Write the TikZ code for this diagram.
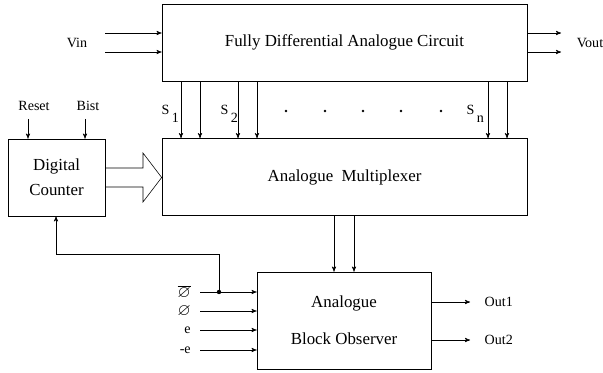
\documentclass[tikz,border=0pt]{standalone}
\usepackage{amssymb}
\usepackage{fontspec}
\setmainfont{Liberation Serif}
\usetikzlibrary{arrows}
\usetikzlibrary{calc}
\usetikzlibrary{positioning}

\newcommand{\phisym}{{\large$\varnothing$}}

\begin{document}
\begin{tikzpicture}
	[
	x=0.025cm, y=-0.025cm,
  > = stealth',
  box/.style = {draw, inner sep=2pt, font=\large},
  lbl/.style = {inner sep=1pt, font=\normalsize},
  dot/.style = {fill,circle,inner sep=1.1pt}
  ]
	\useasboundingbox (0,0) rectangle (603,373);

	\node[box, minimum width=9.125cm, minimum height=1.925cm] (fdac) at (344.5,42.5) {Fully Differential Analogue Circuit};
	\node[box, minimum width=9.125cm, minimum height=1.925cm] (amux) at (344.5,177) {\raisebox{-3pt}{Analogue\ \ Multiplexer}};
	\node[box, minimum width=2.425cm, minimum height=1.925cm, align=center] (dcnt) at (56.5,177.5) {Digital\\[4pt]Counter};
	\node[box, minimum width=4.35cm, minimum height=2.425cm, align=center] (abo) at (344,320.5) {Analogue\\[12pt]Block Observer};

	% circuit in / out
	\node[lbl] (vin) at (77,43) {Vin};
	\node[lbl] (vout) at (590,43) {Vout};
	\foreach \y in {33,52} {
		\coordinate (vi\y) at (105,\y);
		\coordinate (vo\y) at (561,\y);
		\draw[->] (vi\y) -- (vi\y -| fdac.west);
		\draw[->] (vo\y -| fdac.east) -- (vo\y);
	}

	% switch lines
	\foreach \x in {181,200,238,257,488,507}
		\draw[->] (\x,0 |- fdac.south) -- (\x,0 |- amux.north);
	\node[lbl, anchor=base west] (s1) at (160,115) {S\raisebox{-1.2ex}{\,1}};
	\node[lbl, anchor=base west] (s2) at (219,115) {S\raisebox{-1.2ex}{\,2}};
	\node[lbl, anchor=base west] (sn) at (465,115) {S\raisebox{-1.2ex}{\,n}};
	\foreach \x in {286,325,363,401,441}
		\fill (\x,111) circle (0.9pt);

	% counter
	\node[lbl] (rst) at (34,106) {Reset};
	\node[lbl] (bist) at (88,106) {Bist};
	\coordinate (rin) at (28,119);
	\coordinate (bin) at (85,119);
	\draw[->] (rin) -- (rin |- dcnt.north);
	\draw[->] (bin) -- (bin |- dcnt.north);
	\draw (dcnt.east |- 0,168) -- (143,168) -- (143,153) -- (amux.west |- 0,177.5) -- (143,202) -- (143,187) -- (dcnt.east |- 0,187);

	\foreach \x in {334,354}
		\draw[->] (\x,0 |- amux.south) -- (\x,0 |- abo.north);

	% observer inputs
	\foreach \y/\t in {292/{$\overline{\hbox{\phisym}}$},311/\phisym,330/e,350/-e} {
		\node[lbl, anchor=east, inner sep=0pt] (in\y) at (191,\y) {\t};
		\coordinate (ia\y) at (200,\y);
		\draw[->] (ia\y) -- (ia\y -| abo.west);
	}
	\node[dot] (jn) at (219,292) {};
	\coordinate (fb) at (56,254);
	\draw[->] (jn) |- (fb) -- (fb |- dcnt.south);

	\foreach \y/\t in {302/Out1,340/Out2} {
		\coordinate (oa\y) at (470,\y);
		\draw[->] (oa\y -| abo.east) -- (oa\y);
		\node[lbl, anchor=west] (out\y) at (483,\y) {\t};
	}
	\end{tikzpicture}
\end{document}
